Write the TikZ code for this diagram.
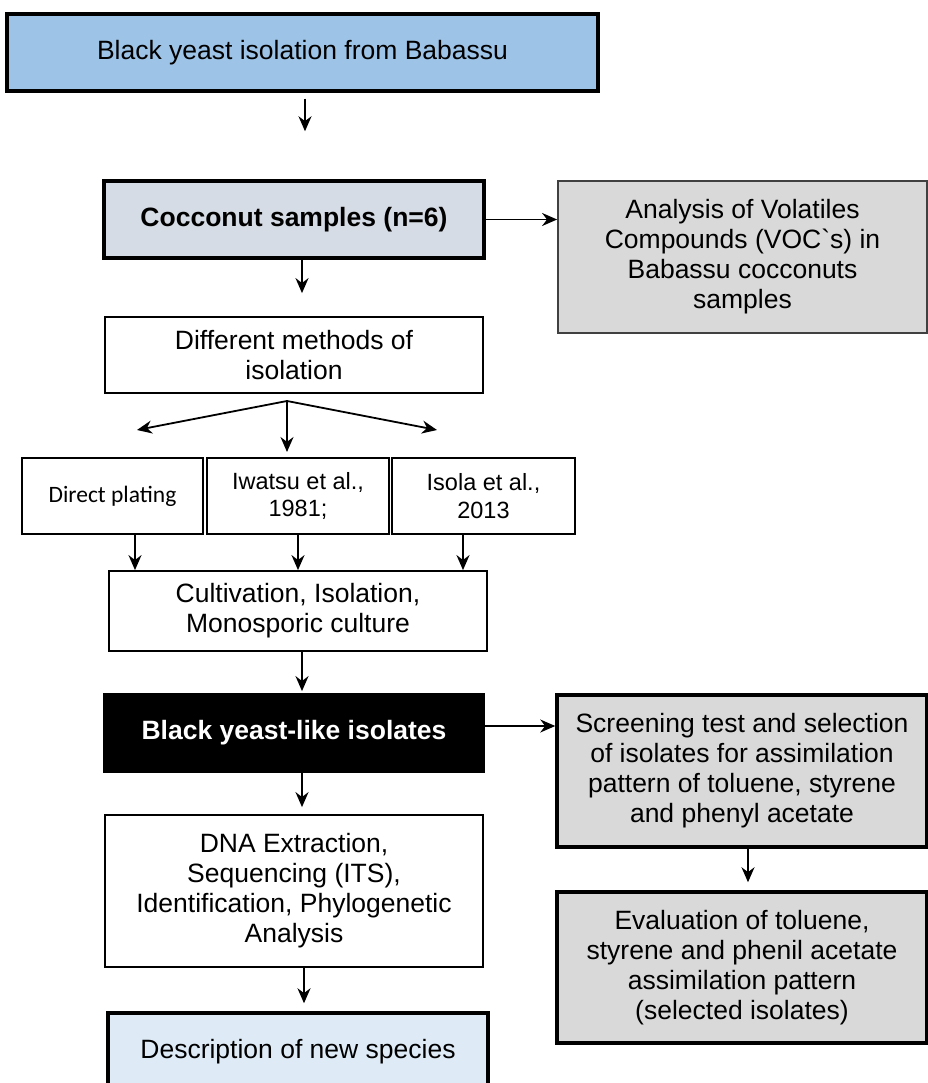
\documentclass[tikz,border=0pt]{standalone}
\usepackage{fontspec}
\setmainfont{Liberation Sans}
\newfontfamily\calibri{Carlito}
\newfontfamily\rawsans{Liberation Sans}
\usetikzlibrary{arrows.meta}
\definecolor{headblue}{HTML}{9DC3E6}
\definecolor{sampleblue}{HTML}{D6DCE5}
\definecolor{vocgray}{HTML}{D9D9D9}
\definecolor{speciesblue}{HTML}{DEEBF7}
\newcommand\bigtxt{\fontsize{26.5}{30}\selectfont}
\newcommand\smalltxt{\fontsize{23.5}{27.5}\selectfont}
\begin{document}
\begin{tikzpicture}[x=1pt,y=-1pt,
    box/.style={draw,line width=1.8pt,align=center,inner sep=0pt,font=\bigtxt},
    heavybox/.style={box,line width=3.5pt},
    arr/.style={-{Stealth[length=15pt,width=13pt]},line width=1.8pt}]
    \useasboundingbox (0,0) rectangle (927,1083);

        %%draw the main column
        \node[heavybox,fill=headblue,minimum width=591pt,minimum height=77pt] (top) at (302.5,52.5)
            {Black yeast isolation from Babassu};
        \node[heavybox,fill=sampleblue,minimum width=380pt,minimum height=77pt,font=\bigtxt\bfseries] (cocco) at (294,219.5)
            {Cocconut samples (n=6)};
        \node[box,minimum width=378pt,minimum height=76pt] (methods) at (294,355)
            {Different methods of\\isolation};
        \node[box,minimum width=378pt,minimum height=80pt] (cult) at (298,611)
            {Cultivation, Isolation,\\Monosporic culture};
        \node[box,draw=black,fill=black,text=white,minimum width=380pt,minimum height=78pt,font=\bigtxt\bfseries] (black) at (294,733)
            {Black yeast-like isolates};
        \node[box,minimum width=378pt,minimum height=152pt] (dna) at (294,891)
            {DNA Extraction,\\Sequencing (ITS),\\Identification, Phylogenetic\\Analysis};
        \node[heavybox,fill=speciesblue,minimum width=380pt,minimum height=77pt] (desc) at (298,1051.5)
            {Description of new species};

        %%draw the three methods
        \node[box,minimum width=181pt,minimum height=76pt,font=\smalltxt\calibri] (direct) at (112.5,496)
            {Direct plating};
        \node[box,minimum width=182pt,minimum height=76pt,font=\smalltxt] (iwatsu) at (298,496)
            {Iwatsu et al.,\\1981;};
        \node[box,minimum width=183pt,minimum height=76pt,font=\smalltxt] (isola) at (483.5,496)
            {Isola et al.,\\2013};

        %%draw the right column
        \node[box,draw=black!75,fill=vocgray,minimum width=369pt,minimum height=152pt] (voc) at (742.5,257)
            {Analysis of Volatiles\\Compounds (VOC{\rawsans `}s) in\\Babassu cocconuts\\samples};
        \node[heavybox,fill=vocgray,minimum width=370pt,minimum height=152pt] (screen) at (742,771)
            {Screening test and selection\\of isolates for assimilation\\pattern of toluene, styrene\\and phenyl acetate};
        \node[heavybox,fill=vocgray,minimum width=370pt,minimum height=151pt] (eval) at (742,967.5)
            {Evaluation of toluene,\\styrene and phenil acetate\\assimilation pattern\\(selected isolates)};

        %%arrow columns and fan ends
        \coordinate (topx) at (305,0);
        \coordinate (midx) at (302,0);
        \coordinate (dnax) at (304,0);
        \coordinate (evalx) at (748,0);
        \coordinate (dx) at (135,0);
        \coordinate (ix) at (298,0);
        \coordinate (sx) at (463,0);
        \coordinate (fan) at (287,401);
        \coordinate (fanl) at (137,430);
        \coordinate (fanm) at (287,452);
        \coordinate (fanr) at (437,430);

        %%draw the arrows
        \draw[arr,shorten <=6pt,shorten >=48pt] (top.south -| topx) -- (cocco.north -| topx);
        \draw[arr,shorten >=23pt] (cocco.south -| midx) -- (methods.north -| midx);
        \draw[arr] (cocco.east) -- (voc.west |- cocco.east);
        \draw[arr] (fan) -- (fanl);
        \draw[arr] (fan) -- (fanm);
        \draw[arr] (fan) -- (fanr);
        \draw[arr] (direct.south -| dx) -- (cult.north -| dx);
        \draw[arr] (iwatsu.south -| ix) -- (cult.north -| ix);
        \draw[arr] (isola.south -| sx) -- (cult.north -| sx);
        \draw[arr,shorten >=2pt] (cult.south -| midx) -- (black.north -| midx);
        \draw[arr] ([yshift=7pt]black.east) -- ([yshift=7pt]black.east -| screen.west);
        \draw[arr,shorten >=7pt] (black.south -| midx) -- (dna.north -| midx);
        \draw[arr,shorten >=8pt] (dna.south -| dnax) -- (desc.north -| dnax);
        \draw[arr,shorten >=8pt] (screen.south -| evalx) -- (eval.north -| evalx);
\end{tikzpicture}
\end{document}
